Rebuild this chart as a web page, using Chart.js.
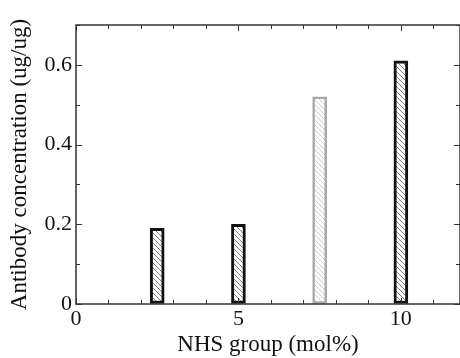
<!DOCTYPE html>
<html>
<head>
<meta charset="utf-8">
<script src="https://cdn.jsdelivr.net/npm/chart.js@4.4.1/dist/chart.umd.min.js"></script>
<style>
  html, body { margin: 0; padding: 0; background: #fff; overflow: hidden; }
  canvas { display: block; }
</style>
</head>
<body>
<canvas id="chart" width="460" height="358"></canvas>
<script>
// valores
const nhsGroup = [2.5, 5, 7.5, 10];
const antibodyConc = [0.19, 0.20, 0.52, 0.61];
const xTickLabels = [0, 5, 10];
const yTickLabels = [0, 0.2, 0.4, 0.6];

const serif = "'Liberation Serif', 'Times New Roman', Times, serif";

function hatch(color) {
  const s = 5;
  const c = document.createElement('canvas');
  c.width = s; c.height = s;
  const g = c.getContext('2d');
  g.fillStyle = '#fff';
  g.fillRect(0, 0, s, s);
  g.strokeStyle = color;
  g.lineWidth = 1;
  g.beginPath();
  for (let k = -1; k <= 1; k++) {
    g.moveTo(k * s, 0);
    g.lineTo(k * s + s, s);
  }
  g.stroke();
  return g.createPattern(c, 'repeat');
}

const darkHatch = hatch('#808080');
const lightHatch = hatch('#cccccc');

function isLabeled(list, v) {
  return list.some(t => Math.abs(t - v) < 1e-6);
}

// marco y marcas hacia adentro
const frame = {
  id: 'frame',
  afterDraw(chart) {
    const ctx = chart.ctx;
    const a = chart.chartArea;
    const xs = chart.scales.x, ys = chart.scales.y;
    ctx.save();
    ctx.strokeStyle = '#333';
    ctx.lineWidth = 1.5;
    ctx.strokeRect(a.left, a.top, a.right - a.left, a.bottom - a.top);
    ctx.lineWidth = 1;
    ctx.beginPath();
    xs.ticks.forEach(t => {
      const px = Math.round(xs.getPixelForValue(t.value)) + 0.5;
      const len = isLabeled(xTickLabels, t.value) ? 6 : 4;
      ctx.moveTo(px, a.bottom); ctx.lineTo(px, a.bottom - len);
      ctx.moveTo(px, a.top); ctx.lineTo(px, a.top + len);
    });
    ys.ticks.forEach(t => {
      const py = Math.round(ys.getPixelForValue(t.value)) + 0.5;
      const len = isLabeled(yTickLabels, t.value) ? 6 : 4;
      ctx.moveTo(a.left, py); ctx.lineTo(a.left + len, py);
      ctx.moveTo(a.right, py); ctx.lineTo(a.right - len, py);
    });
    ctx.stroke();
    ctx.restore();
  }
};

new Chart(document.getElementById('chart'), {
  type: 'bar',
  data: {
    datasets: [{
      data: nhsGroup.map((x, i) => ({ x: x, y: antibodyConc[i] })),
      backgroundColor: [darkHatch, darkHatch, lightHatch, darkHatch],
      borderColor: ['#111', '#111', '#a8a8a8', '#111'],
      borderWidth: [3, 3, 2.5, 3],
      borderSkipped: false,
      barThickness: 14
    }]
  },
  options: {
    responsive: false,
    animation: false,
    layout: { padding: { top: 25, right: 0, left: 0, bottom: 0 } },
    plugins: { legend: { display: false }, tooltip: { enabled: false } },
    scales: {
      x: {
        type: 'linear',
        offset: false,
        min: 0,
        max: 11.82,
        grid: { drawOnChartArea: false, drawTicks: false, offset: false },
        border: { display: false },
        ticks: {
          stepSize: 1,
          includeBounds: false,
          autoSkip: false,
          maxRotation: 0,
          padding: 2,
          color: '#111',
          font: { family: serif, size: 22 },
          callback: v => isLabeled(xTickLabels, v) ? String(v) : ''
        },
        title: {
          display: true,
          text: 'NHS group (mol%)',
          color: '#111',
          font: { family: serif, size: 23 },
          padding: { top: 0, bottom: -1 }
        },
        afterFit(s) { s.height = 54; }
      },
      y: {
        min: 0,
        max: 0.7,
        grid: { drawOnChartArea: false, drawTicks: false },
        border: { display: false },
        ticks: {
          stepSize: 0.1,
          includeBounds: false,
          autoSkip: false,
          padding: 4,
          color: '#111',
          font: { family: serif, size: 22 },
          callback: v => isLabeled(yTickLabels, v) ? (v === 0 ? '0' : v.toFixed(1)) : ''
        },
        title: {
          display: true,
          text: 'Antibody concentration (ug/ug)',
          color: '#111',
          font: { family: serif, size: 23 },
          padding: { top: 6, bottom: 0 }
        },
        afterFit(s) { s.width = 76; }
      }
    }
  },
  plugins: [frame]
});
</script>
</body>
</html>
